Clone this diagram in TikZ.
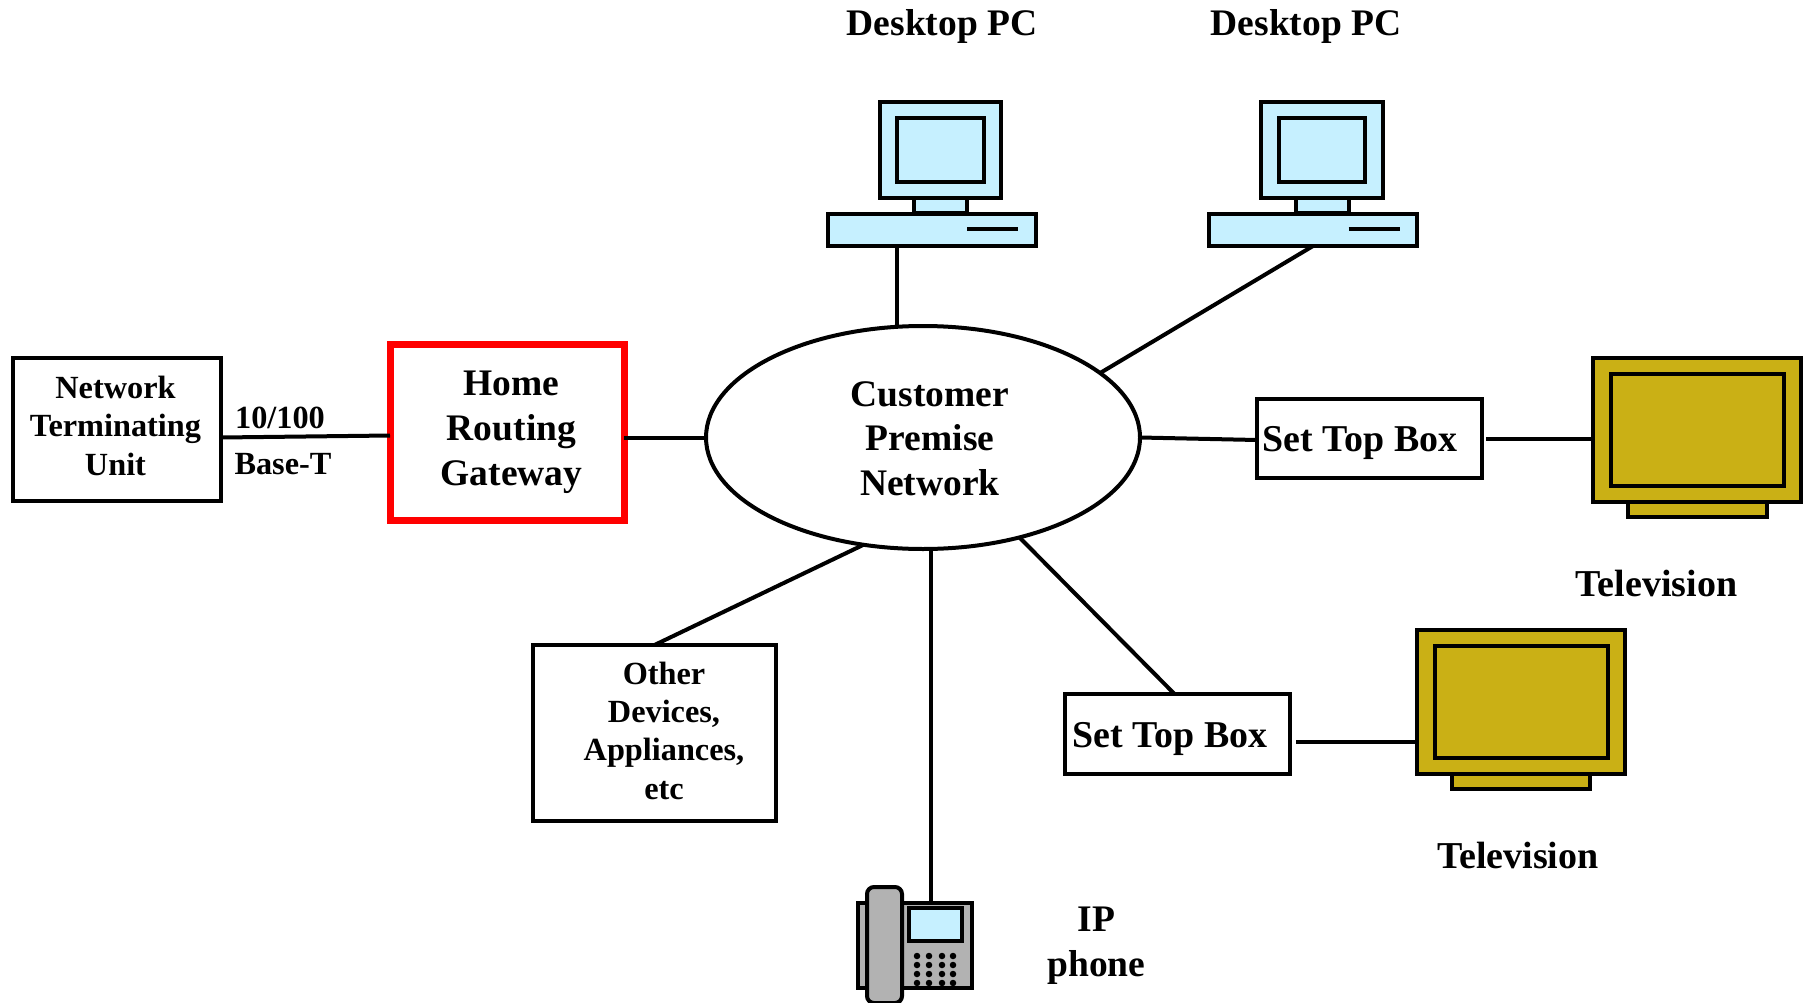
\documentclass[tikz,border=0pt]{standalone}
\usepackage{fontspec}
\setmainfont{Liberation Serif}
\usetikzlibrary{shapes.geometric}
\definecolor{pcblue}{HTML}{C6F0FF}
\definecolor{tvgold}{HTML}{CAB015}
\definecolor{phonegrey}{HTML}{B2B2B2}
\definecolor{gwred}{HTML}{FF0000}
\tikzset{
  wire/.style={draw=black,line width=4pt},
  pxrect/.style={rectangle,draw=black,line width=4pt,inner sep=0pt,outer sep=0pt,align=center,font=\bfseries},
  pcpart/.style={pxrect,fill=pcblue},
  tvpart/.style={pxrect,fill=tvgold},
  phonepart/.style={pxrect,fill=phonegrey},
  label/.style={inner sep=0pt,align=center,font=\bfseries},
  dot/.style={circle,fill=black,inner sep=0pt,minimum size=6.5pt}
}
\newcommand{\pxbox}[6][]{%
  \pgfmathsetmacro{\pxw}{#5-#3}\pgfmathsetmacro{\pxh}{#6-#4}%
  \pgfmathsetmacro{\pxx}{(#3+#5)/2}\pgfmathsetmacro{\pxy}{(#4+#6)/2}%
  \node[pxrect,#1,minimum width=\pxw pt,minimum height=\pxh pt] (#2) at (\pxx,\pxy) {};}
\begin{document}
\begin{tikzpicture}[x=1pt,y=-1pt]
\useasboundingbox (0,0) rectangle (1811,1003);
% boxes
\pxbox{ntu}{13}{358}{221}{501}
\pxbox[line width=7pt,draw=gwred]{hrg}{390}{344}{624}{520}
\pxbox{stba}{1257}{399}{1482}{478}
\pxbox{stbb}{1065}{694}{1290}{774}
\pxbox{other}{533}{645}{776}{821}
\node[ellipse,draw=black,line width=4pt,inner sep=0pt,outer sep=0pt,minimum width=434pt,minimum height=223pt] (cpn) at (923,437.5) {};
% desktop PC 1
\pxbox[pcpart]{pcneeka}{914}{198}{967}{213}
\pxbox[pcpart]{pcmona}{880}{102}{1001}{198}
\pxbox[pcpart]{pcscra}{897}{118}{984}{182}
\pxbox[pcpart]{pcbasea}{828}{214}{1036}{246}
\coordinate (slotaL) at (967,229); \coordinate (slotaR) at (1018,229);
\draw[wire] (slotaL) -- (slotaR);
% desktop PC 2
\pxbox[pcpart]{pcneekb}{1295.5}{198}{1348.5}{213}
\pxbox[pcpart]{pcmonb}{1260.5}{102}{1382.5}{198}
\pxbox[pcpart]{pcscrb}{1278.5}{118}{1365}{182}
\pxbox[pcpart]{pcbaseb}{1209}{214}{1417}{246}
\coordinate (slotbL) at (1348.5,229); \coordinate (slotbR) at (1399.5,229);
\draw[wire] (slotbL) -- (slotbR);
% televisions
\pxbox[tvpart]{tvfoota}{1628}{502}{1767}{517}
\pxbox[tvpart]{tvmona}{1593}{358}{1801}{502}
\pxbox[tvpart]{tvscra}{1611}{374}{1784}{486}
\pxbox[tvpart]{tvfootb}{1452}{774}{1590}{789}
\pxbox[tvpart]{tvmonb}{1417}{630}{1625}{774}
\pxbox[tvpart]{tvscrb}{1434.5}{646}{1608}{758}
% phone
\pxbox[phonepart]{phbody}{858}{903}{972}{988}
\pxbox[pcpart]{phscreen}{909}{908}{962}{941}
\node[phonepart,rounded corners=7pt,minimum width=35pt,minimum height=116pt] (phhand) at (884.5,945) {};
\foreach \px/\pn in {917/a,929/b,942/c,953/d}
  \foreach \py/\pm in {956/a,965/b,974/c,983/d}
    \node[dot] (k\pn\pm) at (\px,\py) {};
% connectors
\draw[wire] ([yshift=-8pt]ntu.east) -- ([yshift=-3.5pt]hrg.west);
\draw[wire] ([yshift=-5.5pt]hrg.east) -- ([yshift=-5.5pt]hrg.east -| cpn.west);
\draw[wire] (cpn.103.2) -- (cpn.103.2 |- pcbasea.south);
\draw[wire] (cpn.20.6) -- (pcbaseb.south);
\draw[wire] (cpn.east) -- ([yshift=-1.5pt]stba.west);
\draw[wire] ([xshift=4pt]stba.east) -- (stba.east -| tvmona.west);
\draw[wire] (cpn.-46) -- ([xshift=-3pt]stbb.north);
\draw[wire] ([xshift=6pt,yshift=-7.5pt]stbb.east) -- ([yshift=-7.5pt]stbb.east -| tvmonb.west);
\draw[wire] (cpn.-86) -- (cpn.-86 |- phbody.north);
\draw[wire] (cpn.-119.3) -- (other.north);
% labels
\node[label,font=\bfseries\fontsize{37.5}{37.5}\selectfont] (la) at (942,26) {Desktop PC};
\node[label,font=\bfseries\fontsize{37.5}{37.5}\selectfont] (lb) at (1306,26) {Desktop PC};
\node[label,font=\bfseries\fontsize{37.5}{44.5}\selectfont] (lc) at (930,438.5) {Customer\\Premise\\Network};
\node[label,font=\bfseries\fontsize{37.5}{45}\selectfont] (ld) at (511.5,432.5) {Home\\Routing\\Gateway};
\node[label,font=\bfseries\fontsize{32.3}{38.5}\selectfont] (le) at (115.5,425.5) {Network\\Terminating\\Unit};
\node[label,font=\bfseries\fontsize{32.3}{32.3}\selectfont] (lf) at (280,418) {10/100};
\node[label,font=\bfseries\fontsize{32.3}{32.3}\selectfont] (lg) at (283,464.5) {Base-T};
\node[label,font=\bfseries\fontsize{37.9}{37.9}\selectfont] (lh) at (1360,443) {Set Top Box};
\node[label,font=\bfseries\fontsize{37.9}{37.9}\selectfont] (li) at (1170,739) {Set Top Box};
\node[label,font=\bfseries\fontsize{32.3}{38.3}\selectfont] (lj) at (664,730.5) {Other\\Devices,\\Appliances,\\etc};
\node[label,font=\bfseries\fontsize{38}{38}\selectfont] (lk) at (1656.5,583) {Television};
\node[label,font=\bfseries\fontsize{38}{38}\selectfont] (ll) at (1518,855) {Television};
\node[label,font=\bfseries\fontsize{37.5}{45}\selectfont] (lm) at (1096.5,945.5) {IP\\phone};
\end{tikzpicture}
\end{document}
